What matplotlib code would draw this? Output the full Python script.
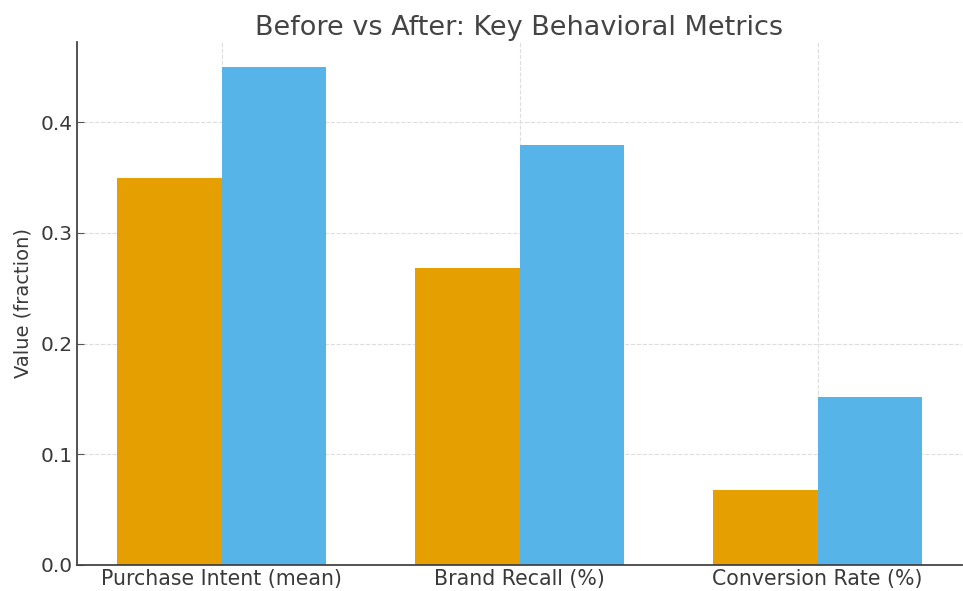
import numpy as np
import matplotlib
matplotlib.use("Agg")
import matplotlib.pyplot as plt

# Data
metrics = ["Purchase Intent (mean)", "Brand Recall (%)", "Conversion Rate (%)"]
before = [0.35, 0.268, 0.068]
after = [0.45, 0.379, 0.152]

text_col = "#3a3a3a"
plt.rcParams["font.family"] = "DejaVu Sans"

fig = plt.figure(figsize=(9.63, 5.91), dpi=100)
ax = fig.add_axes([0.080, 0.044, 0.919, 0.885])

x = np.arange(len(metrics))
width = 0.35

ax.bar(x - width / 2, before, width, color="#E69F00", label="Before")
ax.bar(x + width / 2, after, width, color="#56B4E9", label="After")

ax.set_xticks(x)
ax.set_xticklabels(metrics, fontsize=14.8, color=text_col)
ax.set_yticks([0.0, 0.1, 0.2, 0.3, 0.4])
ax.set_yticklabels(["0.0", "0.1", "0.2", "0.3", "0.4"], fontsize=14.5, color=text_col)
ax.tick_params(direction="in", length=5, color="#555555", pad=3)

ax.set_ylabel("Value (fraction)", fontsize=14, color=text_col, labelpad=6)
ax.set_title("Before vs After: Key Behavioral Metrics", fontsize=19.5, color="#444444", pad=5)

ax.grid(True, color="#dddddd", linestyle="--", linewidth=0.8)
ax.set_axisbelow(True)

for side in ["top", "right"]:
    ax.spines[side].set_visible(False)
for side in ["left", "bottom"]:
    ax.spines[side].set_color("#444444")
    ax.spines[side].set_linewidth(1.3)

fig.savefig("out.png", dpi=100)
